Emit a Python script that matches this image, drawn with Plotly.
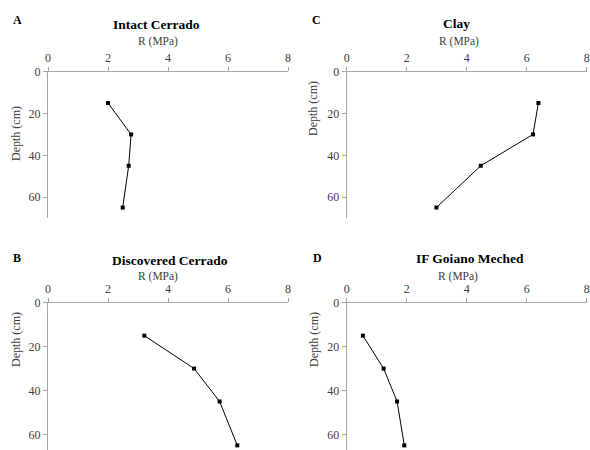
import plotly.graph_objects as go

depth = [15, 30, 45, 65]
r_intact = [2.0, 2.77, 2.69, 2.49]
r_clay = [6.39, 6.21, 4.47, 2.99]
r_discovered = [3.21, 4.87, 5.72, 6.31]
r_goiano = [0.54, 1.23, 1.68, 1.92]

titles = ["Intact Cerrado", "Clay", "Discovered Cerrado", "IF Goiano Meched"]
letters = ["A", "C", "B", "D"]
series = [r_intact, r_clay, r_discovered, r_goiano]
x_ticks = [0, 2, 4, 6, 8]
y_ticks = [0, 20, 40, 60]

W, H = 590, 450
xdoms = [(48, 288), (346.7, 586.7), (48, 288), (346.7, 586.7)]
ydoms = [(71.7, 218), (71.7, 218), (302.7, 450), (302.7, 450)]
yranges = [[70, 0], [70, 0], [67.1, 0], [67.1, 0]]

FONT = "Liberation Serif"
fig = go.Figure()
layout = dict(width=W, height=H, margin=dict(l=0, r=0, t=0, b=0, autoexpand=False),
              paper_bgcolor="white", plot_bgcolor="white", showlegend=False,
              font=dict(family=FONT, size=12, color="#404040"))
annotations = []

for i in range(4):
    n = "" if i == 0 else str(i + 1)
    fig.add_trace(go.Scatter(x=series[i], y=depth, mode="lines+markers",
                             line=dict(color="black", width=1),
                             marker=dict(symbol="square", size=4, color="black"),
                             xaxis="x" + n, yaxis="y" + n, cliponaxis=False))
    x0, x1 = xdoms[i]
    y0, y1 = ydoms[i]
    layout["xaxis" + n] = dict(domain=[x0 / W, x1 / W], range=[0, 8], side="top",
                               anchor="y" + n, tickvals=x_ticks, ticks="outside",
                               ticklen=4, tickcolor="#a6a6a6", showline=True,
                               linecolor="#a6a6a6", linewidth=1, showgrid=False,
                               zeroline=False, automargin=False,
                               tickfont=dict(family=FONT, size=12, color="#404040"))
    layout["yaxis" + n] = dict(domain=[1 - y1 / H, 1 - y0 / H], range=yranges[i],
                               anchor="x" + n, tickvals=y_ticks, ticks="outside",
                               ticklen=4, tickcolor="#a6a6a6", showline=True,
                               linecolor="#a6a6a6", linewidth=1, showgrid=False,
                               zeroline=False, automargin=False,
                               tickfont=dict(family=FONT, size=12, color="#404040"))

# titles, axis titles, panel letters (pixel positions)
title_pos = [(156, 24), (456.7, 23), (170, 260), (470, 258.3)]
rlab_pos = [(158, 41.7), (459, 41.7), (157.5, 276.3), (458, 276.3)]
depth_pos = [(16, 134), (313, 109), (16, 340), (314, 340)]
letter_pos = [(17, 20), (316.7, 20), (17, 258), (317, 258)]

for i in range(4):
    tx, ty = title_pos[i]
    annotations.append(dict(x=tx / W, y=1 - ty / H, xref="paper", yref="paper",
                            text="<b>" + titles[i] + "</b>", showarrow=False,
                            font=dict(family=FONT, size=13.5, color="black"),
                            xanchor="center", yanchor="middle"))
    rx, ry = rlab_pos[i]
    annotations.append(dict(x=rx / W, y=1 - ry / H, xref="paper", yref="paper",
                            text="R (MPa)", showarrow=False,
                            font=dict(family=FONT, size=11.5, color="#404040"),
                            xanchor="center", yanchor="middle"))
    dx, dy = depth_pos[i]
    annotations.append(dict(x=dx / W, y=1 - dy / H, xref="paper", yref="paper",
                            text="Depth (cm)", showarrow=False, textangle=-90,
                            font=dict(family=FONT, size=12, color="#404040"),
                            xanchor="center", yanchor="middle"))
    lx, ly = letter_pos[i]
    annotations.append(dict(x=lx / W, y=1 - ly / H, xref="paper", yref="paper",
                            text="<b>" + letters[i] + "</b>", showarrow=False,
                            font=dict(family=FONT, size=12, color="black"),
                            xanchor="center", yanchor="middle"))

layout["annotations"] = annotations
fig.update_layout(**layout)
fig.write_html("out.html", config={"displayModeBar": False},
               post_script="document.body.style.margin='0';document.body.style.overflow='hidden';")
